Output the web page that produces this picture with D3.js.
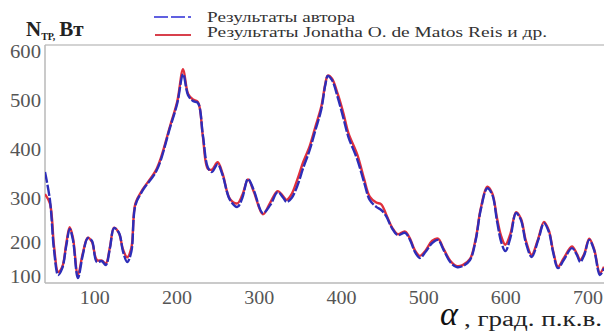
<!DOCTYPE html>
<html><head><meta charset="utf-8">
<script src="https://cdn.jsdelivr.net/npm/d3@7"></script>
<style>
html,body{margin:0;padding:0;background:#fff;}
svg{display:block;font-family:"Liberation Serif","Times New Roman",serif;}
</style></head>
<body>
<svg id="chart" width="604" height="335"></svg>
<script>
// ---- data ----
const angles = [40,46,51,56,61,66,70,74,80,86,92,97,103,109,114,119,124,130,135,140,145,150,159,176,192,201,208,214,220,226,232,238,243,250,256,265,274,280,287,294,305,314,323,330,334,340,347,354,362,369,376,381,384,389,396,403,409,420,428,435,443,449,455,462,469,478,484,490,496,503,511,518,525,533,541,548,557,564,570,578,584,590,595,600,606,613,619,625,632,640,647,653,658,664,671,681,687,691,696,702,708,715,720];
const authorValues = [355,298,179,106,126,194,232,207,97,165,211,205,144,147,135,185,234,223,174,144,174,286,318,359,445,496,555,512,500,496,431,365,355,371,349,298,282,302,341,318,268,286,314,302,293,302,327,363,400,441,482,533,551,543,508,465,427,380,335,298,282,275,261,234,218,223,207,174,156,174,200,207,179,144,129,132,150,207,275,322,309,248,202,176,211,268,252,200,159,207,245,225,174,126,150,185,165,144,165,207,179,106,126];
const reisValues = [310,290,190,115,130,200,236,212,105,170,212,203,150,148,140,188,235,222,180,158,185,290,320,362,448,500,565,515,503,498,428,362,360,375,352,300,290,308,340,315,265,292,316,305,298,310,340,375,408,448,488,535,552,546,515,475,435,390,342,305,292,288,265,236,220,226,210,178,162,178,205,210,182,148,132,135,153,210,278,325,312,255,215,195,220,270,255,205,165,210,248,228,178,130,155,190,168,150,168,210,182,112,130];
const xTicks = [100,200,300,400,500,600,700];
const yTicks = [100,200,300,400,500,600];
const seriesNames = ["Результаты автора","Результаты Jonatha O. de Matos Reis и др."];

// ---- layout ----
const svg = d3.select("#chart");
const pLeft = 45, pRight = 604, pTop = 45, pBottom = 283;

const x = d3.scaleLinear().domain([40,720]).range([pLeft,pRight]);
// the picture's vertical axis is not evenly spaced; follow its tick positions
const y = d3.scaleLinear().domain([100,200,300,400,500,600]).range([277,243,199,150,101,52]);

// frame
svg.append("line").attr("x1",pLeft).attr("x2",pRight).attr("y1",pTop).attr("y2",pTop)
  .attr("stroke","#c4c4c4").attr("stroke-width",1.5);

const xAxis = svg.append("g").attr("transform",`translate(0,${pBottom})`)
  .call(d3.axisBottom(x).tickValues(xTicks).tickSize(0).tickPadding(8).tickFormat(d3.format("d")));
xAxis.select(".domain").attr("d",`M${pLeft},0H${pRight}`).attr("stroke","#b8b8b8").attr("stroke-width",1.5);
xAxis.selectAll("text").attr("font-size",18).attr("fill","#555").attr("font-family","Liberation Serif")
  .attr("textLength",30).attr("lengthAdjust","spacingAndGlyphs");

const yAxis = svg.append("g").attr("transform",`translate(${pLeft},0)`)
  .call(d3.axisLeft(y).tickValues(yTicks).tickSize(0).tickPadding(4).tickFormat(d3.format("d")));
yAxis.select(".domain").attr("d",`M0,${pTop}V${pBottom}`).attr("stroke","#b8b8b8").attr("stroke-width",1.5);
yAxis.selectAll("text").attr("font-size",18).attr("fill","#555").attr("font-family","Liberation Serif")
  .attr("textLength",31).attr("lengthAdjust","spacingAndGlyphs");

// curves
const line = d3.line().curve(d3.curveCatmullRom.alpha(0.5)).x(d=>x(d[0])).y(d=>y(d[1]));
const reisData = angles.map((a,i)=>[a,reisValues[i]]);
const authorData = angles.map((a,i)=>[a,authorValues[i]]);

svg.append("clipPath").attr("id","clip").append("rect")
  .attr("x",pLeft).attr("y",pTop).attr("width",pRight-pLeft).attr("height",pBottom-pTop);

svg.append("path").datum(reisData).attr("d",line).attr("fill","none")
  .attr("stroke","#e0303c").attr("stroke-width",2.4).attr("clip-path","url(#clip)");
svg.append("path").datum(authorData).attr("d",line).attr("fill","none")
  .attr("stroke","#2d2db8").attr("stroke-width",2.4).attr("stroke-dasharray","11,2")
  .attr("clip-path","url(#clip)");

// legend
svg.append("line").attr("x1",154).attr("x2",191).attr("y1",17).attr("y2",17)
  .attr("stroke","#6060e0").attr("stroke-width",2.2).attr("stroke-dasharray","14,3");
svg.append("line").attr("x1",155).attr("x2",191).attr("y1",35).attr("y2",35)
  .attr("stroke","#d8404c").attr("stroke-width",1.8);
svg.append("text").attr("x",207).attr("y",22).attr("font-size",15).attr("fill","#333")
  .attr("textLength",148).attr("lengthAdjust","spacingAndGlyphs").text(seriesNames[0]);
svg.append("text").attr("x",207).attr("y",37).attr("font-size",15).attr("fill","#333")
  .attr("textLength",340).attr("lengthAdjust","spacingAndGlyphs").text(seriesNames[1]);

// y title
const t = svg.append("text").attr("x",26).attr("y",36).attr("font-weight","bold").attr("fill","#222");
t.append("tspan").attr("font-size",21).text("N");
t.append("tspan").attr("font-size",10).attr("dy",4).text("ТР,");
t.append("tspan").attr("font-size",21).attr("dy",-4).attr("dx",4).text("Вт");

// x title
svg.append("text").attr("x",440).attr("y",325).attr("font-size",34).attr("font-style","italic")
  .attr("fill","#111").text("α");
svg.append("text").attr("x",464).attr("y",326).attr("font-size",20).attr("fill","#222")
  .attr("textLength",138).attr("lengthAdjust","spacingAndGlyphs").text(", град. п.к.в.");
</script>
</body></html>
